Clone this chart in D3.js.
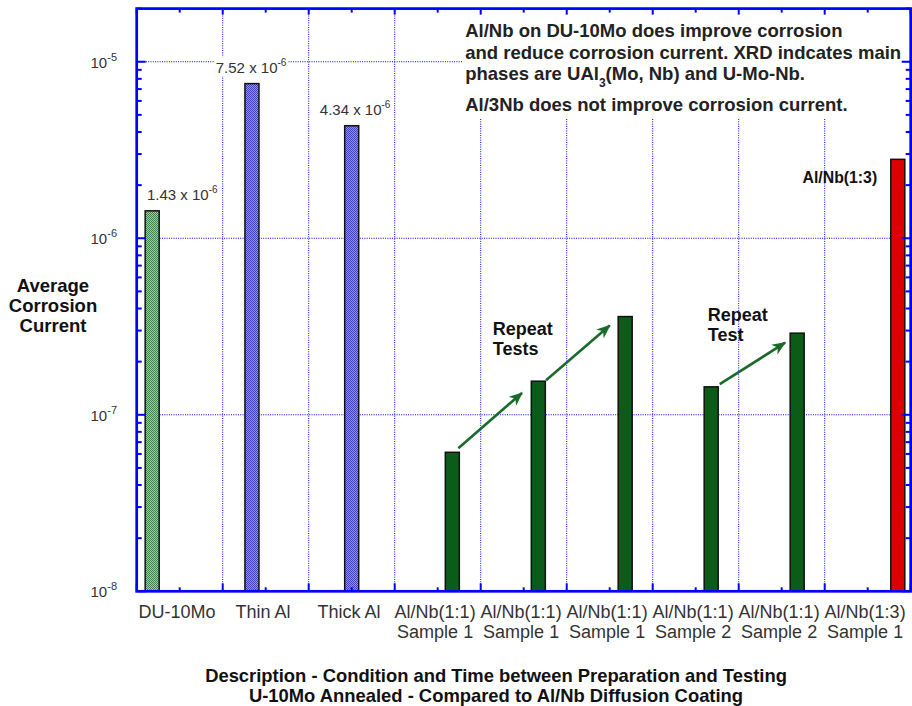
<!DOCTYPE html>
<html>
<head>
<meta charset="utf-8">
<script src="https://cdn.jsdelivr.net/npm/d3@7"></script>
<style>
  body { margin: 0; background: #fff; }
  text { font-family: "Liberation Sans", Arial, Helvetica, sans-serif; }
</style>
</head>
<body>
<svg id="chart"></svg>
<script>
// categories along the x axis (two label lines)
const catLine1 = ["DU-10Mo", "Thin Al", "Thick Al", "Al/Nb(1:1)", "Al/Nb(1:1)", "Al/Nb(1:1)", "Al/Nb(1:1)", "Al/Nb(1:1)", "Al/Nb(1:3)"];
const catLine2 = ["", "", "", "Sample 1", "Sample 1", "Sample 1", "Sample 2", "Sample 2", "Sample 1"];

// bar position on the 0..9 axis and the average corrosion current
const barPos = [0.18, 1.34, 2.50, 3.67, 4.67, 5.68, 6.68, 7.68, 8.85];
const current = [1.43e-6, 7.52e-6, 4.34e-6, 6.13e-8, 1.55e-7, 3.6e-7, 1.44e-7, 2.9e-7, 2.8e-6];
const barKind = ["du", "al", "al", "nb", "nb", "nb", "nb", "nb", "nb3"];

// printed values above the first three bars
const valueText = ["1.43 x 10", "7.52 x 10", "4.34 x 10"];
const valueExp = ["-6", "-6", "-6"];
const valueLabelPos = [0.53, 1.33, 2.54];

// y tick labels
const yTicks = [1e-8, 1e-7, 1e-6, 1e-5];
const yTickExp = ["-8", "-7", "-6", "-5"];

// arrows: [x0, y0, x1, y1] in data units
const arrows = [
  [3.74, 6.46e-8, 4.48, 1.33e-7],
  [4.76, 1.57e-7, 5.50, 3.2e-7],
  [6.78, 1.49e-7, 7.54, 2.56e-7]
];

const noteLines = [
  "Al/Nb on DU-10Mo does improve corrosion",
  "and reduce corrosion current. XRD indcates main",
  "phases are UAl_3(Mo, Nb) and U-Mo-Nb.",
  "Al/3Nb does not improve corrosion current."
];

const width = 912, height = 706;
const blue = "#0000ff";

const svg = d3.select("#chart")
  .attr("width", width)
  .attr("height", height);

const x = d3.scaleLinear().domain([0, 9]).range([136.7, 910.7]);
const y = d3.scaleLog().domain([1e-8, 2e-5]).range([591.3, 8.6]);

const fills = { du: "url(#duPat)", al: "url(#alPat)", nb: "#0b5c19", nb3: "#dd0000" };

// patterns for the hatched bars
const defs = svg.append("defs");
function checker(id, base, dot) {
  const p = defs.append("pattern").attr("id", id)
    .attr("patternUnits", "userSpaceOnUse")
    .attr("width", 2).attr("height", 2);
  p.append("rect").attr("width", 2).attr("height", 2).attr("fill", base);
  p.append("rect").attr("width", 1).attr("height", 1).attr("fill", dot);
  p.append("rect").attr("x", 1).attr("y", 1).attr("width", 1).attr("height", 1).attr("fill", dot);
}
checker("duPat", "#9fcf9f", "#3f7f4f");
checker("alPat", "#9090f8", "#4040c0");

defs.append("marker")
  .attr("id", "head")
  .attr("markerUnits", "userSpaceOnUse")
  .attr("viewBox", "0 0 12 10")
  .attr("markerWidth", 14).attr("markerHeight", 12)
  .attr("refX", 11).attr("refY", 5)
  .attr("orient", "auto")
  .append("path")
  .attr("d", "M0,0 L12,5 L0,10 L3.5,5 Z")
  .attr("fill", "#1a6b2a");

// dotted grid
const grid = svg.append("g")
  .attr("stroke", blue)
  .attr("stroke-width", 1)
  .attr("stroke-dasharray", "1,1.3");

grid.selectAll("line.v")
  .data(d3.range(1, 9))
  .join("line")
  .attr("x1", d => x(d)).attr("x2", d => x(d))
  .attr("y1", y.range()[1]).attr("y2", y.range()[0]);

grid.selectAll("line.h")
  .data(yTicks.slice(1))
  .join("line")
  .attr("x1", x.range()[0]).attr("x2", x.range()[1])
  .attr("y1", d => y(d)).attr("y2", d => y(d));

const boxLayer = svg.append("g");

// bars
const barW = 0.163;
svg.append("g")
  .selectAll("rect")
  .data(current)
  .join("rect")
  .attr("x", (d, i) => x(barPos[i] - barW / 2))
  .attr("width", x(barW) - x(0))
  .attr("y", d => y(d))
  .attr("height", d => y(1e-8) - y(d))
  .attr("fill", (d, i) => fills[barKind[i]])
  .attr("stroke", "#111")
  .attr("stroke-width", 1.5);

// axes: ticks pointing inward on all four sides
const minorY = y.ticks().filter(t => !yTicks.includes(t));
const majorX = d3.range(0, 10);
const minorX = d3.range(0.5, 9, 1);

function ticks(data, isX, pos, len) {
  svg.append("g")
    .attr("stroke", blue)
    .attr("stroke-width", 2)
    .selectAll("line")
    .data(data)
    .join("line")
    .attr("x1", d => isX ? x(d) : pos)
    .attr("x2", d => isX ? x(d) : pos + len)
    .attr("y1", d => isX ? pos : y(d))
    .attr("y2", d => isX ? pos + len : y(d));
}
const [xl, xr] = x.range();
const [yb, yt] = y.range();
ticks(yTicks, false, xl, 9);
ticks(minorY, false, xl, 5);
ticks(yTicks, false, xr, -9);
ticks(minorY, false, xr, -5);
ticks(majorX, true, yb, -8);
ticks(minorX, true, yb, -4);
ticks(majorX, true, yt, 6);
ticks(minorX, true, yt, 4);

svg.append("rect")
  .attr("x", xl).attr("y", yt)
  .attr("width", xr - xl).attr("height", yb - yt)
  .attr("fill", "none")
  .attr("stroke", blue)
  .attr("stroke-width", 2.7);

// y tick labels
const yLab = svg.append("g")
  .attr("fill", "#333")
  .attr("font-size", 15)
  .attr("text-anchor", "end")
  .selectAll("text")
  .data(yTicks)
  .join("text")
  .attr("x", 117)
  .attr("y", d => y(d) + 6);
yLab.append("tspan").text("10");
yLab.append("tspan").attr("font-size", 11).attr("dy", -7).text((d, i) => yTickExp[i]);

// x category labels
const xLab = svg.append("g")
  .attr("fill", "#333")
  .attr("font-size", 18)
  .attr("text-anchor", "middle");
xLab.selectAll("text.l1")
  .data(catLine1)
  .join("text")
  .attr("x", (d, i) => x(i + 0.47))
  .attr("y", 618)
  .text(d => d);
xLab.selectAll("text.l2")
  .data(catLine2)
  .join("text")
  .attr("x", (d, i) => x(i + 0.47))
  .attr("y", 638)
  .text(d => d);

// value labels with white backing
const vLab = svg.append("g")
  .attr("fill", "#333")
  .attr("font-size", 15)
  .attr("text-anchor", "middle")
  .selectAll("text")
  .data(valueText)
  .join("text")
  .attr("x", (d, i) => x(valueLabelPos[i]))
  .attr("y", (d, i) => y(current[i]) - 10.5);
vLab.append("tspan").text(d => d);
vLab.append("tspan").attr("font-size", 10).attr("dy", -7).text((d, i) => valueExp[i]);
vLab.each(function () {
  const b = this.getBBox();
  boxLayer.append("rect")
    .attr("x", b.x - 1).attr("y", b.y)
    .attr("width", b.width + 2).attr("height", b.height)
    .attr("fill", "#fff");
});

// note block
const note = svg.append("text")
  .attr("fill", "#222")
  .attr("font-size", 18.5)
  .attr("font-weight", "bold");
const noteDy = [0, 21.5, 21.5, 31];
let noteY = 37;
noteLines.forEach((line, i) => {
  noteY += noteDy[i];
  const parts = line.split("_3");
  note.append("tspan").attr("x", x(3.82)).attr("y", noteY).text(parts[0]);
  if (parts.length > 1) {
    note.append("tspan").attr("font-size", 12).attr("dy", 7).text("3");
    note.append("tspan").attr("dy", -7).text(parts[1]);
  }
});
const nb = note.node().getBBox();
boxLayer.append("rect")
  .attr("x", nb.x - 3).attr("y", yt + 6)
  .attr("width", xr - 6 - (nb.x - 3))
  .attr("height", nb.y + nb.height + 3 - (yt + 6))
  .attr("fill", "#fff");

// arrows
svg.append("g")
  .attr("stroke", "#1a6b2a")
  .attr("stroke-width", 2.6)
  .selectAll("line")
  .data(arrows)
  .join("line")
  .attr("x1", d => x(d[0])).attr("y1", d => y(d[1]))
  .attr("x2", d => x(d[2])).attr("y2", d => y(d[3]))
  .attr("marker-end", "url(#head)");

// in-plot bold annotations
const ann = svg.append("g")
  .attr("fill", "#111")
  .attr("font-weight", "bold");
function multi(lines, xv, yv, size, anchor) {
  const t = ann.append("text")
    .attr("font-size", size)
    .attr("text-anchor", anchor);
  lines.forEach((l, i) => {
    t.append("tspan").attr("x", x(xv)).attr("y", y(yv) + i * 20).text(l);
  });
}
multi(["Repeat", "Tests"], 4.14, 2.83e-7, 18, "start");
multi(["Repeat", "Test"], 6.64, 3.41e-7, 18, "start");
multi(["Al/Nb(1:3)"], 8.61, 2.06e-6, 15.8, "end");

// axis titles
const yTitle = svg.append("text")
  .attr("fill", "#111")
  .attr("font-size", 18.5)
  .attr("font-weight", "bold")
  .attr("text-anchor", "middle");
["Average", "Corrosion", "Current"].forEach((l, i) => {
  yTitle.append("tspan").attr("x", 53).attr("y", 292 + i * 20).text(l);
});

const xTitle = svg.append("text")
  .attr("fill", "#111")
  .attr("font-size", 18.4)
  .attr("font-weight", "bold")
  .attr("text-anchor", "middle");
["Description - Condition and Time between Preparation and Testing",
 "U-10Mo Annealed - Compared to Al/Nb Diffusion Coating"].forEach((l, i) => {
  xTitle.append("tspan").attr("x", 496).attr("y", 681.5 + i * 20).text(l);
});
</script>
</body>
</html>
